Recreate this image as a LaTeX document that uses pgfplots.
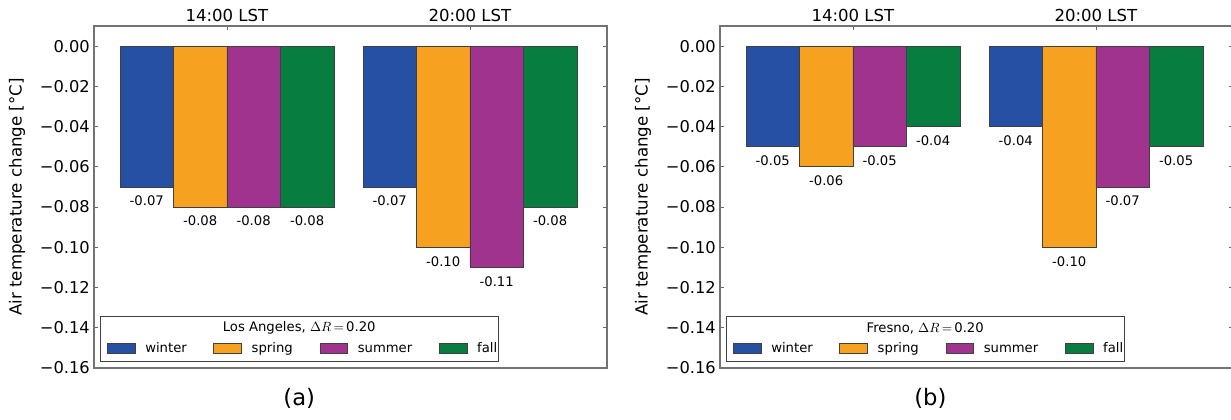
\documentclass[border=0pt]{standalone}
\usepackage{fontspec}
\setmainfont{DejaVu Sans}
\usepackage{pgfplots}
\pgfplotsset{compat=1.18}
\definecolor{cwinter}{RGB}{37,80,164}
\definecolor{cspring}{RGB}{246,161,32}
\definecolor{csummer}{RGB}{160,51,142}
\definecolor{cfall}{RGB}{8,125,64}
\pgfplotsset{
  panel/.style={
    scale only axis,
    width=384.75pt, height=256.5pt,
    anchor=south west,
    clip=false,
    ybar=0pt, bar width=0.22,
    xmin=-0.547, xmax=1.564,
    ymin=-0.16, ymax=0.01,
    xtick={0,1}, xticklabels={14:00 LST,20:00 LST},
    xtick pos=upper, xticklabel pos=upper,
    ytick={-0.16,-0.14,-0.12,-0.10,-0.08,-0.06,-0.04,-0.02,0},
    yticklabels={−0.16,−0.14,−0.12,−0.10,−0.08,−0.06,−0.04,−0.02,0.00},
    ytick pos=both, yticklabel pos=left,
    tick align=inside, major tick length=3pt,
    tick style={black!60, line width=0.5pt},
    axis line style={black!55, line width=0.8pt},
    xticklabel style={font=\fontsize{12.4}{14}\selectfont},
    yticklabel style={font=\fontsize{12.2}{14}\selectfont, inner xsep=3pt},
    ylabel={Air temperature change [°C]},
    ylabel style={at={(axis description cs:-0.150,0.5)}, anchor=center, font=\fontsize{12.5}{14}\selectfont},
    point meta=explicit symbolic,
    nodes near coords,
    every node near coord/.append style={font=\fontsize{9.9}{12}\selectfont, inner sep=0pt, anchor=north, yshift=-6.5pt},
    legend columns=4,
    legend style={draw=none, fill=none, at={(0.0248,0.0564)}, anchor=west, inner sep=0pt,
      font=\fontsize{9.9}{12}\selectfont,
      nodes={inner sep=0pt, text height=0.75em, text depth=0.22em, anchor=west},
      /tikz/every odd column/.append style={column sep=7.5pt},
      /tikz/every even column/.append style={column sep=20pt}},
    legend image code/.code={\draw[#1, draw=black!75, line width=0.5pt] (0pt,-3.3pt) rectangle (20.7pt,3.7pt);},
  },
  barstyle/.style={fill=#1, draw=black!75, line width=0.5pt},
}
\begin{document}
\begin{tikzpicture}
\useasboundingbox (0,0) rectangle (923.25pt,315pt);
\clip (0,0) rectangle (923.25pt,315pt);
% ---------------- (a) Los Angeles
\begin{axis}[panel, at={(70.5pt,39pt)}]
\addplot[barstyle=cwinter] coordinates {(0,-0.07) [-0.07] (1,-0.07) [-0.07]};
\addplot[barstyle=cspring] coordinates {(0,-0.08) [-0.08] (1,-0.10) [-0.10]};
\addplot[barstyle=csummer] coordinates {(0,-0.08) [-0.08] (1,-0.11) [-0.11]};
\addplot[barstyle=cfall] coordinates {(0,-0.08) [-0.08] (1,-0.08) [-0.08]};
\legend{winter,spring,summer,fall}
\draw[black!75, line width=0.7pt, fill=white] (rel axis cs:0.0131,0.0184) rectangle (rel axis cs:0.789,0.152);
\node[font=\fontsize{9.9}{12}\selectfont] at (rel axis cs:0.40,0.116) {Los Angeles, $\Delta R\,{=}\,$0.20};
\node[font=\fontsize{17}{20}\selectfont] at (axis description cs:0.40,-0.088) {(a)};
\end{axis}
% ---------------- (b) Fresno
\begin{axis}[panel, at={(540pt,39pt)}]
\addplot[barstyle=cwinter] coordinates {(0,-0.05) [-0.05] (1,-0.04) [-0.04]};
\addplot[barstyle=cspring] coordinates {(0,-0.06) [-0.06] (1,-0.10) [-0.10]};
\addplot[barstyle=csummer] coordinates {(0,-0.05) [-0.05] (1,-0.07) [-0.07]};
\addplot[barstyle=cfall] coordinates {(0,-0.04) [-0.04] (1,-0.05) [-0.05]};
\legend{winter,spring,summer,fall}
\draw[black!75, line width=0.7pt, fill=white] (rel axis cs:0.0131,0.0184) rectangle (rel axis cs:0.789,0.152);
\node[font=\fontsize{9.9}{12}\selectfont] at (rel axis cs:0.40,0.116) {Fresno, $\Delta R\,{=}\,$0.20};
\node[font=\fontsize{17}{20}\selectfont] at (axis description cs:0.41,-0.088) {(b)};
\end{axis}
\end{tikzpicture}
\end{document}
